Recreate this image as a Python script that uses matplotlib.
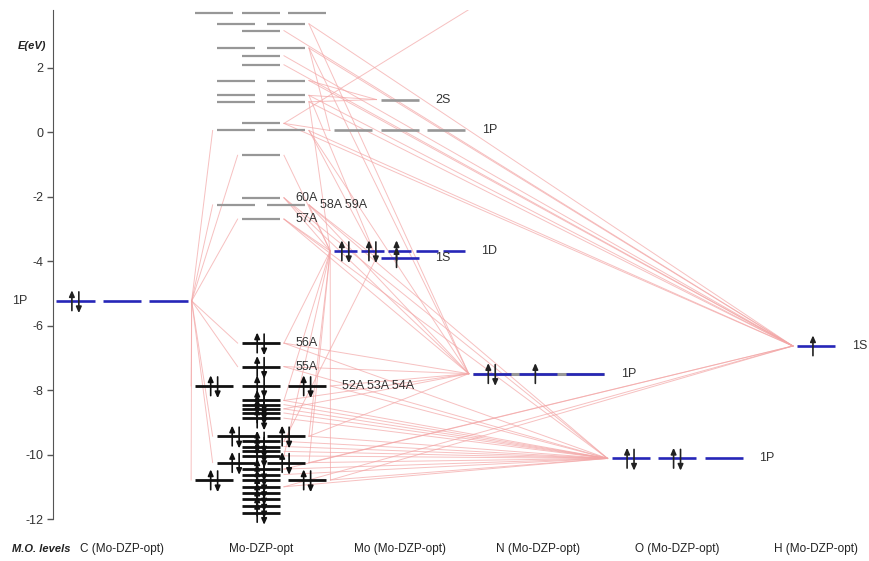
import matplotlib
matplotlib.use("Agg")
import matplotlib.pyplot as plt

plt.rcParams['font.family'] = ['Liberation Sans', 'DejaVu Sans']
plt.rcParams['axes.unicode_minus'] = False

# ---------------- data ----------------
column_labels = ["C (Mo-DZP-opt)", "Mo-DZP-opt", "Mo (Mo-DZP-opt)",
                 "N (Mo-DZP-opt)", "O (Mo-DZP-opt)", "H (Mo-DZP-opt)"]

# molecular (Mo-DZP-opt) virtual levels, eV, and degeneracy
mo_virt_E = [3.72, 3.37, 3.16, 2.62, 2.38, 2.10, 1.61, 1.15, 0.95, 0.28, 0.06,
             -0.71, -2.03, -2.25, -2.69]
mo_virt_deg = [3, 2, 1, 2, 1, 1, 2, 2, 2, 1, 2, 1, 1, 2, 1]

# molecular occupied levels
mo_occ_E = [-6.54, -7.27, -7.87, -8.32, -8.45, -8.58, -8.71, -8.87, -9.43,
            -9.59, -9.75, -9.90, -10.04, -10.25, -10.45, -10.62, -10.79,
            -11.00, -11.20, -11.39, -11.60, -11.80]
mo_occ_deg = [1, 1, 3, 1, 1, 1, 1, 1, 2, 1, 1, 1, 1, 2, 1, 1, 3, 1, 1, 1, 1, 1]

mo_label_E = [-2.03, -2.25, -2.69, -6.54, -7.27, -7.87]
mo_label_text = ["60A", "58A 59A", "57A", "56A", "55A", "52A 53A 54A"]

# atomic fragment levels
atom_key = ["C1P", "Mo2S", "Mo1P", "Mo1D", "Mo1S", "N1P", "N2S", "O1P", "H1S"]
atom_col = [0, 2, 2, 2, 2, 3, 3, 4, 5]
atom_E = [-5.23, 1.02, 0.06, -3.68, -3.89, -7.49, 4.70, -10.12, -6.63]
atom_occ = [[2, 0, 0], [0], [0, 0, 0], [2, 2, 1, 0, 0], [1], [2, 1, 0], [0],
            [2, 2, 0], [1]]
atom_label = ["1P", "2S", "1P", "1D", "1S", "1P", "2S", "1P", "1S"]
atom_is_valence = [True, False, False, True, True, True, False, True, True]

# MO -> atomic level contributions (connection lines)
conn_C1P = [0.06, -0.71, -2.25, -2.69, -6.54, -7.27, -7.87, -9.43, -10.25, -10.79]
conn_Mo1D = [-2.03, -2.25, -2.69, 0.95, -0.71, -6.54, -8.32, -9.43, -10.04,
             -10.25, -10.79]
conn_Mo1S = [1.15, 0.06, -2.25, -9.59]
conn_Mo2S = [1.15, 0.95, 1.61]
conn_Mo1P = [0.28, 2.62]
conn_N1P = [-2.03, -2.25, -2.69, -6.54, -7.27, -7.87, -8.32, -8.58, -9.43,
            0.06, 2.62, 3.37]
conn_N2S = [0.28]
conn_O1P = [-2.03, -2.25, -2.69, -6.54, -7.27, -7.87, -8.32, -8.45, -8.58,
            -8.71, -8.87, -9.43, -9.59, -9.75, -9.90, -10.04, -10.25, -10.45,
            -10.62, -10.79, -11.00]
conn_H1S = [3.37, 3.16, 2.62, 2.38, 2.10, 1.61, 1.15, 0.95, 0.28, 0.06,
            -10.25, -10.45, -10.79, -11.00]
connections = {"C1P": conn_C1P, "Mo1D": conn_Mo1D, "Mo1S": conn_Mo1S,
               "Mo2S": conn_Mo2S, "Mo1P": conn_Mo1P, "N1P": conn_N1P,
               "N2S": conn_N2S, "O1P": conn_O1P, "H1S": conn_H1S}

y_ticks = [-12, -10, -8, -6, -4, -2, 0, 2]

# ---------------- style / layout ----------------
W, H = 869, 561
GREY = "#979797"
BLUE = "#2626b8"
BLACK = "#111111"
RED = "#f3a6a6"

fig = plt.figure(figsize=(W / 100, H / 100), dpi=100)
ax_left_px, ax_top_px = 53, 10
px_per_eV = 509 / 15.8
y_top, y_bot = 3.8, -12.4
ax_bot_px = ax_top_px + (y_top - y_bot) * px_per_eV
ax = fig.add_axes([ax_left_px / W, 1 - ax_bot_px / H, 1 - ax_left_px / W,
                   (ax_bot_px - ax_top_px) / H])
X0_PX, COL_PX = 122, 138.8
ax.set_xlim((ax_left_px - X0_PX) / COL_PX, (W - X0_PX) / COL_PX)
ax.set_ylim(y_bot, y_top)

for s in ["top", "right", "bottom"]:
    ax.spines[s].set_visible(False)
ax.spines["left"].set_bounds(-12, y_top)
ax.spines["left"].set_color("#555555")
ax.set_xticks([])
ax.set_yticks(y_ticks)
ax.set_yticklabels([str(t) for t in y_ticks])
ax.tick_params(axis="y", direction="out", length=4, width=1, color="#555555",
               labelsize=9, labelcolor="#333333", pad=3)

HALF = 0.137


def offsets(n):
    return {1: [0.0], 2: [-0.18, 0.18], 3: [-0.335, 0.0, 0.335],
            5: [-0.39, -0.195, 0.0, 0.195, 0.39]}[n]


def half(n):
    return 0.08 if n == 5 else HALF


def ends(col, n):
    o = offsets(n)
    return col + o[0] - half(n), col + o[-1] + half(n)


def arrow(x, y0, y1, color):
    ax.annotate("", xy=(x, y1), xytext=(x, y0),
                arrowprops=dict(arrowstyle="-|>,head_length=0.45,head_width=0.2",
                                color=color, lw=1.2, shrinkA=0, shrinkB=0,
                                mutation_scale=8), annotation_clip=True, zorder=4)


def draw_level(col, E, n, color, lw, occ, arrow_color):
    for k, o in enumerate(offsets(n)):
        c = col + o
        ax.plot([c - half(n), c + half(n)], [E, E], color=color, lw=lw,
                solid_capstyle="butt", zorder=3)
        if occ[k] >= 1:
            xu = c - 0.026 if occ[k] == 2 else c - 0.022
            arrow(xu, E - 0.30, E + 0.33, arrow_color)
        if occ[k] == 2:
            arrow(c + 0.024, E + 0.28, E - 0.38, arrow_color)


# ---------------- connection lines ----------------
mo_deg = dict(zip(mo_virt_E + mo_occ_E, mo_virt_deg + mo_occ_deg))
GAP = 0.03
for key, mos in connections.items():
    i = atom_key.index(key)
    col, Ea, na = atom_col[i], atom_E[i], len(atom_occ[i])
    al, ar = ends(col, na)
    for Em in mos:
        ml, mr = ends(1, mo_deg[Em])
        if col < 1:
            xs = [ar + GAP, ml - GAP]
            ys = [Ea, Em]
        else:
            xs = [mr + GAP, al - GAP]
            ys = [Em, Ea]
        ax.plot(xs, ys, color=RED, lw=0.7, alpha=0.7, zorder=1)

# ---------------- molecular levels ----------------
for E, n in zip(mo_virt_E, mo_virt_deg):
    draw_level(1, E, n, GREY, 1.6, [0] * n, BLACK)
for E, n in zip(mo_occ_E, mo_occ_deg):
    draw_level(1, E, n, BLACK, 2.0, [2] * n, BLACK)
for E, t in zip(mo_label_E, mo_label_text):
    n = mo_deg[E]
    ax.text(ends(1, n)[1] + 0.11, E, t, fontsize=9, color="#333333",
            ha="left", va="center", zorder=5)

# ---------------- atomic levels ----------------
for i, key in enumerate(atom_key):
    col, E, occ = atom_col[i], atom_E[i], atom_occ[i]
    n = len(occ)
    color = BLUE if atom_is_valence[i] else GREY
    if key == "N1P":
        l, r = ends(col, n)
        ax.plot([l, r], [E, E], color=GREY, lw=2.2, solid_capstyle="butt",
                zorder=2)
    draw_level(col, E, n, color, 1.9, occ, "#222222")
    if y_bot < E < y_top:
        if col == 0:
            ax.text(-0.735, E, atom_label[i], fontsize=9, color="#333333",
                    ha="center", va="center", clip_on=False)
        else:
            ax.text(ends(col, n)[1] + 0.12, E, atom_label[i], fontsize=9,
                    color="#333333", ha="left", va="center")

# ---------------- labels ----------------
for j, lab in enumerate(column_labels):
    xpx = X0_PX + COL_PX * j
    fig.text(xpx / W, 1 - 549 / H, lab, fontsize=8.5, color="#222222",
             ha="center", va="center")
fig.text(41 / W, 1 - 549 / H, "M.O. levels", fontsize=8, fontweight="bold",
         fontstyle="italic", color="#222222", ha="center", va="center")
fig.text(32 / W, 1 - 46 / H, "E(eV)", fontsize=8, fontweight="bold",
         fontstyle="italic", color="#222222", ha="center", va="center")

fig.savefig("out.png", dpi=100)
